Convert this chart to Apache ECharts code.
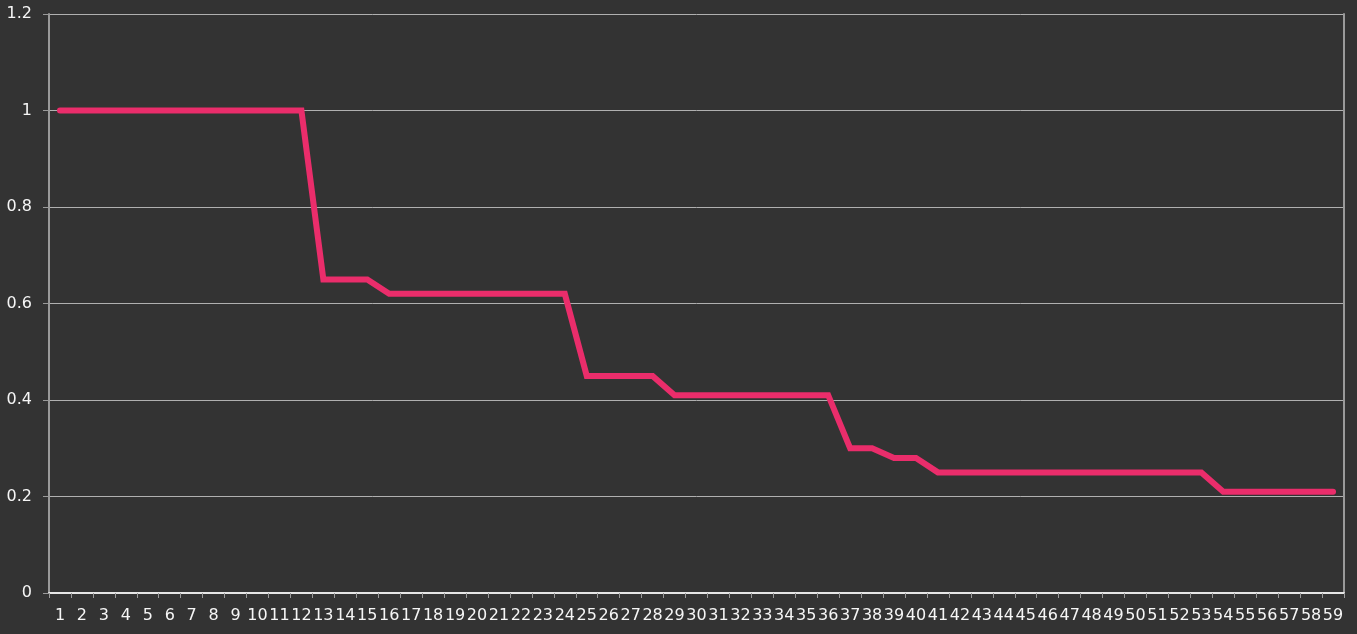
<!DOCTYPE html>
<html><head><meta charset="utf-8">
<style>html,body{margin:0;padding:0;background:#333333;}#c{width:1357px;height:634px;}</style>
<script src="https://cdn.jsdelivr.net/npm/echarts@6/dist/echarts.min.js"></script>
</head><body><div id="c"></div>
<script>
const categories = [];
for (let i = 1; i <= 59; i++) categories.push(String(i));
const values = [
  1,1,1,1,1,1,1,1,1,1,1,1,
  0.65,0.65,0.65,
  0.62,0.62,0.62,0.62,0.62,0.62,0.62,0.62,0.62,
  0.45,0.45,0.45,0.45,
  0.41,0.41,0.41,0.41,0.41,0.41,0.41,0.41,
  0.30,0.30,
  0.28,0.28,
  0.25,0.25,0.25,0.25,0.25,0.25,0.25,0.25,0.25,0.25,0.25,0.25,0.25,
  0.21,0.21,0.21,0.21,0.21,0.21
];
const yTicks = [0, 0.2, 0.4, 0.6, 0.8, 1, 1.2];

const chart = echarts.init(document.getElementById('c'));
chart.setOption({
  backgroundColor: '#333333',
  animation: false,
  grid: { left: 49, right: 13, top: 14, bottom: 41, containLabel: false },
  xAxis: [{
    type: 'category', data: categories, boundaryGap: true,
    axisLine: { lineStyle: { color: '#9a9a9a', width: 2 } },
    axisTick: { show: true, length: 5, lineStyle: { color: '#9a9a9a' } },
    axisLabel: { interval: 0, color: '#f6f6f6', fontSize: 16, margin: 15, fontFamily: 'DejaVu Sans' },
    splitLine: { show: false }
  }, {
    type: 'category', data: categories, position: 'top', boundaryGap: true,
    axisLine: { lineStyle: { color: '#e6e6e6', width: 2 } },
    axisTick: { show: false }, axisLabel: { show: false }
  }],
  yAxis: [{
    type: 'value', min: 0, max: 1.2, interval: 0.2,
    axisLine: { show: true, lineStyle: { color: '#9a9a9a', width: 2 } },
    axisTick: { show: true, length: 6, lineStyle: { color: '#9a9a9a' } },
    axisLabel: { color: '#f6f6f6', fontSize: 16, margin: 17, fontFamily: 'DejaVu Sans',
      formatter: v => { const t = yTicks.find(x => Math.abs(x - v) < 1e-9); return t === undefined ? '' : String(t); } },
    splitLine: { show: true, lineStyle: { color: '#b0b0b0', width: 1 } }
  }, {
    type: 'value', min: 0, max: 1.2, interval: 0.2, position: 'right',
    axisLine: { show: true, lineStyle: { color: '#9a9a9a', width: 2 } },
    axisTick: { show: false }, axisLabel: { show: false }, splitLine: { show: false }
  }],
  series: [{
    type: 'line', data: values, symbol: 'none',
    lineStyle: { color: '#EA2D6B', width: 6, cap: 'round', join: 'miter' }
  }]
});
</script></body></html>
